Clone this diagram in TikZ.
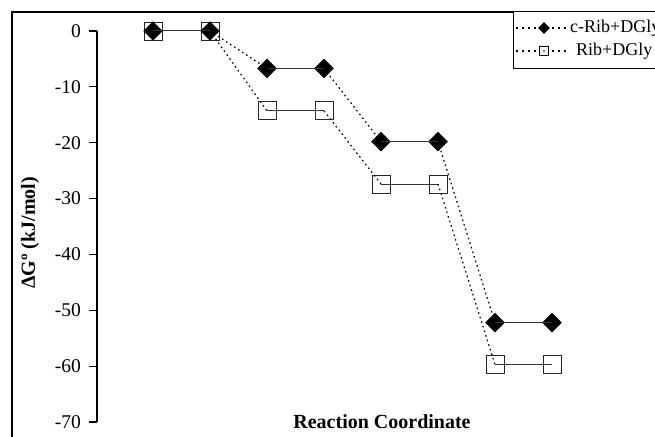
\documentclass[tikz,border=0pt]{standalone}
\usepackage{fontspec}
\setmainfont{Liberation Serif}
\usetikzlibrary{shapes.geometric}
\tikzset{
  dmark/.style={diamond, fill=black, draw=black, minimum size=19pt, inner sep=0pt},
  smark/.style={rectangle, draw=black!85, line width=0.9pt, minimum size=18pt, inner sep=0pt},
  plateau/.style={line width=1pt, draw=black!80},
  trans/.style={line width=1.2pt, dash pattern=on 1.6pt off 3.2pt},
  legline/.style={line width=1.2pt, dash pattern=on 2pt off 4pt},
  ticklab/.style={anchor=east, inner sep=0pt, font=\fontsize{19.5}{21}\selectfont},
  axlab/.style={inner sep=0pt, font=\fontsize{20}{22}\selectfont\bfseries},
  legtext/.style={anchor=west, inner sep=0pt, font=\fontsize{18}{20}\selectfont},
}
\begin{document}
\begin{tikzpicture}[x=1pt,y=-1pt]
\useasboundingbox (0,0) rectangle (655,436);
\clip (0,0) rectangle (655,436);
% outer frame (extends past the right and bottom edges)
\draw[line width=1.3pt] (12,12) rectangle (700,480);
% axis
\coordinate (atop) at (97,31);
\coordinate (abot) at (97,422);
\draw[line width=1.1pt] (atop) -- (abot);
\foreach \v [count=\i from 0] in {0,-10,-20,-30,-40,-50,-60,-70}{
  \coordinate (t\i) at (97,{31+\i*55.86});
  \coordinate (tl\i) at (89,{31+\i*55.86});
  \draw[line width=1.1pt] (tl\i) -- (t\i);
  \node[ticklab] (lab\i) at (81,{31+\i*55.86}) {\v};
}
% axis labels
\node[axlab, rotate=90] (ylab) at (30,233) {ΔGº (kJ/mol)};
\node[axlab, anchor=base] (xlab) at (382,428) {Reaction Coordinate};
% Rib+DGly (squares)
\foreach \x/\v [count=\i] in {153/0,210/0,267/-14.3,324/-14.3,381/-27.4,438/-27.4,495/-59.7,552/-59.7}{
  \node[smark] (s\i) at (\x,{31-\v*5.586}) {};
}
% c-Rib+DGly (diamonds)
\foreach \x/\v [count=\i] in {153/0,210/0,267/-6.7,324/-6.7,381/-19.8,438/-19.8,495/-52.2,552/-52.2}{
  \node[dmark] (d\i) at (\x,{31-\v*5.586}) {};
}
% plateaus
\foreach \a/\b in {1/2,3/4,5/6,7/8}{
  \draw[plateau] (s\a.center) -- (s\b.center);
  \draw[plateau] (d\a.center) -- (d\b.center);
}
% transitions
\foreach \a/\b in {2/3,4/5,6/7}{
  \draw[trans] (s\a.center) -- (s\b.center);
  \draw[trans] (d\a.center) -- (d\b.center);
}
% legend
\draw[line width=1pt, fill=white] (513,12) rectangle (700,68);
\coordinate (l1a) at (516,28);
\coordinate (l1b) at (567,28);
\coordinate (l2a) at (516,51);
\coordinate (l2b) at (567,51);
\draw[legline] (l1a) -- (l1b);
\draw[legline] (l2a) -- (l2b);
\node[diamond, fill=black, minimum size=12pt, inner sep=0pt] (ld) at (544,28) {};
\node[rectangle, draw=black, fill=white, line width=0.8pt, minimum size=9pt, inner sep=0pt] (ls) at (544,51) {};
\fill (ls.center) circle (0.9pt);
\node[legtext] (lt1) at (570,28) {c-Rib+DGly};
\node[legtext] (lt2) at (576,51) {Rib+DGly};
\end{tikzpicture}
\end{document}
